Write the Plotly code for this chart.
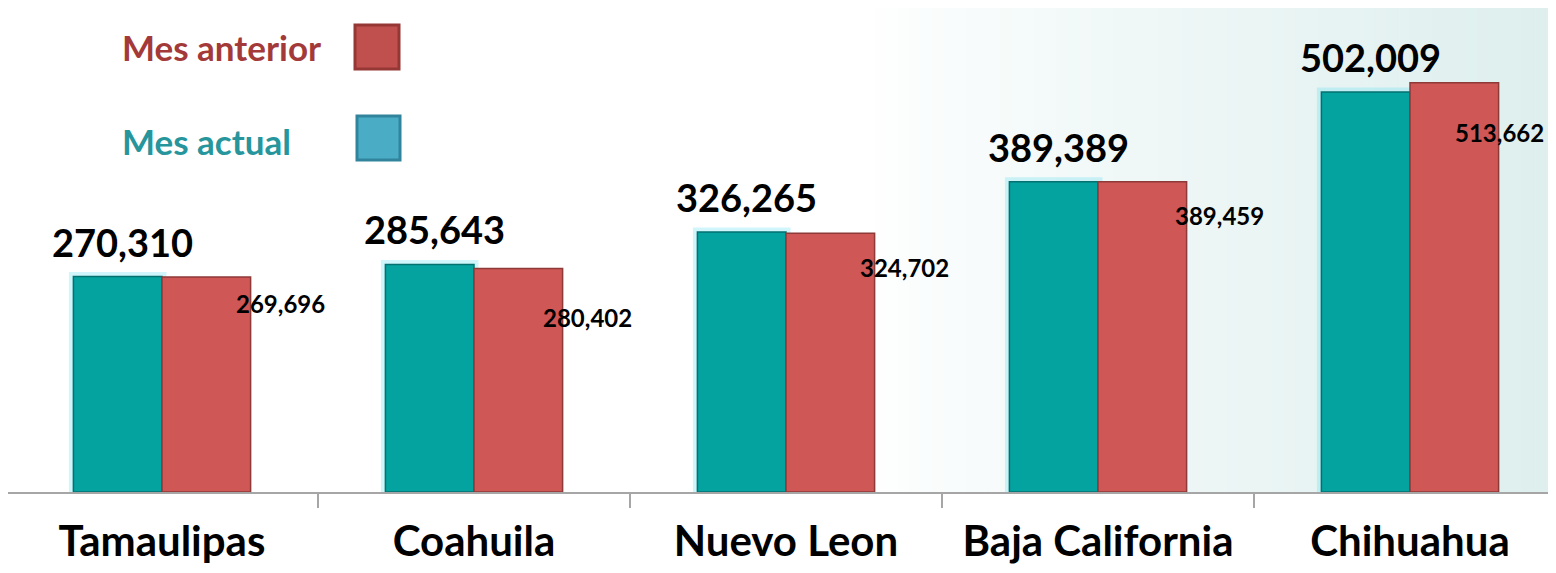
import plotly.graph_objects as go

# data
estados = ["Tamaulipas", "Coahuila", "Nuevo Leon", "Baja California", "Chihuahua"]
mes_actual = [270310, 285643, 326265, 389389, 502009]
mes_anterior = [269696, 280402, 324702, 389459, 513662]

# styling
TEAL = "#04A3A0"
TEAL_EDGE = "#03716F"
RED = "#CF5756"
RED_EDGE = "#8E3A39"
FONT = "Lato"

# page is drawn with an 8px body margin, so work in page pixels and shift
PAD = 8
W, H = 1556 - PAD, 573 - PAD
PLOT_H = 492 - PAD

# small label nudges (px), as hand-placed in the original
red_dx = [118, 113, 118, 121, 89]
red_dy = [-26, -49, -34, -34, -50]

BAR_W = 0.284
CAT_PX = 312


def px_x(p):
    return (p - PAD) / W


def px_y(p):
    # paper y is relative to the plot area (top at PAD, height PLOT_H)
    return 1 - (p - PAD) / PLOT_H


fig = go.Figure()

# soft glow behind the current-month bars
fig.add_trace(go.Bar(
    x=estados, y=mes_actual, offset=-BAR_W, width=BAR_W,
    marker=dict(color="rgba(120,225,240,0.45)",
                line=dict(color="rgba(120,225,240,0.35)", width=9)),
    hoverinfo="skip", showlegend=False,
))

fig.add_trace(go.Bar(
    x=estados, y=mes_actual, offset=-BAR_W, width=BAR_W,
    name="Mes actual",
    marker=dict(color=TEAL, line=dict(color=TEAL_EDGE, width=1.5)),
    showlegend=False,
))

fig.add_trace(go.Bar(
    x=estados, y=mes_anterior, offset=0, width=BAR_W,
    name="Mes anterior",
    marker=dict(color=RED, line=dict(color=RED_EDGE, width=1.5)),
    showlegend=False,
))

annotations = []
for est, v in zip(estados, mes_actual):
    annotations.append(dict(
        x=est, y=v, xref="x", yref="y", text=f"{v:,}",
        showarrow=False, xanchor="center", yanchor="bottom",
        xshift=-40, yshift=10,
        font=dict(family=FONT, size=38, color="black", weight="bold"),
    ))
for i, (est, v) in enumerate(zip(estados, mes_anterior)):
    annotations.append(dict(
        x=est, y=v, xref="x", yref="y", text=f"{v:,}",
        showarrow=False, xanchor="center", yanchor="middle",
        xshift=red_dx[i], yshift=red_dy[i],
        font=dict(family=FONT, size=24, color="black", weight="bold"),
    ))

# legend drawn by hand: text on the left, swatch on the right
annotations.append(dict(
    x=px_x(323), y=px_y(47), xref="paper", yref="paper", text="Mes anterior",
    showarrow=False, xanchor="right", yanchor="middle",
    font=dict(family=FONT, size=35, color="#A33A39", weight="bold"),
))
annotations.append(dict(
    x=px_x(293), y=px_y(141), xref="paper", yref="paper", text="Mes actual",
    showarrow=False, xanchor="right", yanchor="middle",
    font=dict(family=FONT, size=35, color="#27969C", weight="bold"),
))

shapes = []
# faint tinted backdrop on the right-hand side (opaque strips, white -> pale teal)
n_strips = 60
x_start = 0.56
for k in range(n_strips):
    x0 = x_start + k * ((1 - x_start) / n_strips)
    x1 = x0 + (1 - x_start) / n_strips + 0.001
    t = ((k + 1) / n_strips) ** 0.8
    r = round(255 - t * (255 - 222))
    g = round(255 - t * (255 - 239))
    b = round(255 - t * (255 - 238))
    shapes.append(dict(
        type="rect", xref="paper", yref="paper", x0=x0, x1=x1, y0=0, y1=1,
        fillcolor=f"rgb({r},{g},{b})", line=dict(width=0), layer="below",
    ))

# legend swatches
shapes.append(dict(
    type="rect", xref="paper", yref="paper",
    x0=px_x(355), x1=px_x(399), y0=px_y(69), y1=px_y(25),
    fillcolor="#C0504D", line=dict(color="#953735", width=3),
))
shapes.append(dict(
    type="rect", xref="paper", yref="paper",
    x0=px_x(357), x1=px_x(400), y0=px_y(160), y1=px_y(116),
    fillcolor="#4BACC6", line=dict(color="#31849B", width=3),
))

fig.update_layout(
    width=W, height=H,
    margin=dict(l=0, r=0, t=0, b=H - PLOT_H, autoexpand=False),
    paper_bgcolor="white",
    plot_bgcolor="rgba(0,0,0,0)",
    barmode="overlay",
    showlegend=False,
    annotations=annotations,
    shapes=shapes,
    xaxis=dict(
        range=[-0.5 + (PAD - 6) / CAT_PX, -0.5 + (PAD - 6 + W) / CAT_PX],
        automargin=False,
        showline=True, linecolor="#A6A6A6", linewidth=2,
        ticks="outside", tickson="boundaries", ticklen=14,
        tickcolor="#A6A6A6", tickwidth=2,
        tickfont=dict(family=FONT, size=42, color="black", weight="bold"),
        ticklabelstandoff=12,
        showgrid=False, zeroline=False,
    ),
    yaxis=dict(
        range=[0, PLOT_H * 1255], visible=False, showgrid=False, zeroline=False,
    ),
)

fig.write_html("out.html")
